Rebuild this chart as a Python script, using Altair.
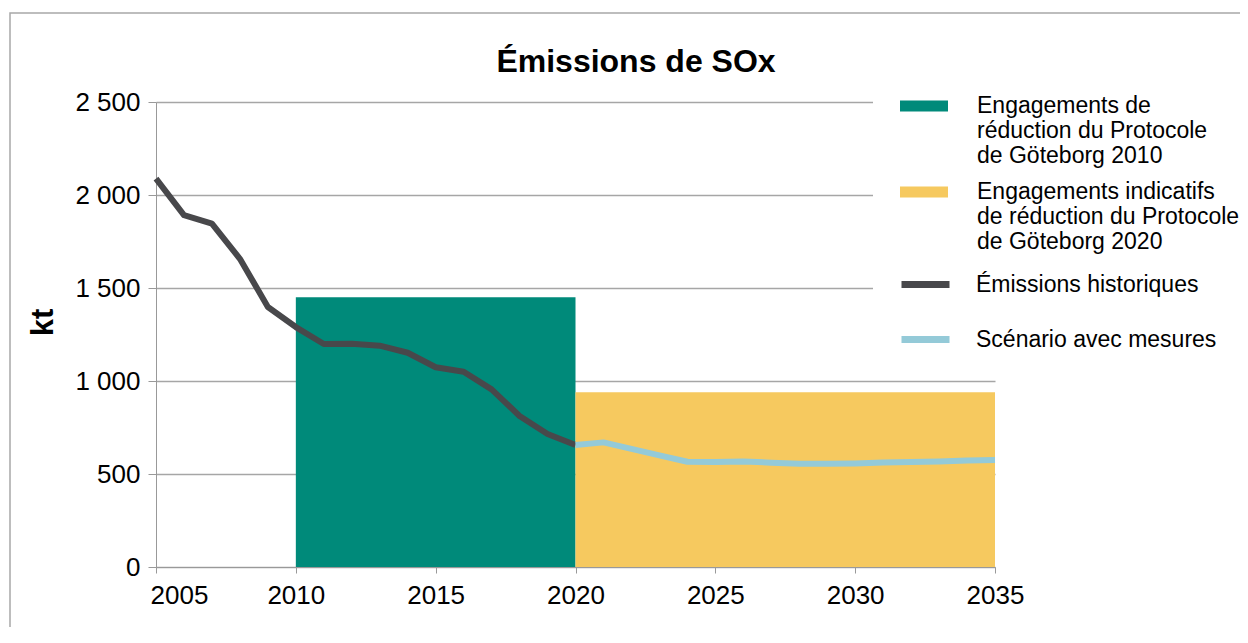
import altair as alt
import pandas as pd

# ---- data ----
title_text = "Émissions de SOx"
hist_years = list(range(2005, 2021))
hist_values = [2088, 1892, 1846, 1657, 1398, 1290, 1199, 1200, 1190, 1152, 1074, 1050, 955, 812, 715, 656]

scen_years = list(range(2020, 2036))
scen_values = [656, 670, 635, 600, 566, 565, 567, 561, 555, 555, 557, 562, 564, 567, 573, 575]

commit_start = [2010, 2020]
commit_end = [2020, 2035]
commit_values = [1450, 940]

commit_labels = [
    "Engagements de\nréduction du Protocole\nde Göteborg 2010",
    "Engagements indicatifs\nde réduction du Protocole\nde Göteborg 2020",
]
commit_colors = ["#008a7a", "#f6c95f"]
line_labels = ["Émissions historiques", "Scénario avec mesures"]
line_colors = ["#48484b", "#94cad8"]

x_ticks = [2005, 2010, 2015, 2020, 2025, 2030, 2035]
y_ticks = [0, 500, 1000, 1500, 2000, 2500]

FONT = "Liberation Sans"

commit_df = pd.DataFrame({
    "start": commit_start,
    "end": commit_end,
    "value": commit_values,
    "series": commit_labels,
})
lines_df = pd.DataFrame({
    "year": hist_years + scen_years,
    "value": hist_values + scen_values,
    "series": [line_labels[0]] * len(hist_years) + [line_labels[1]] * len(scen_years),
})

common_legend = dict(
    title=None,
    orient="none",
    fillColor="white",
    padding=10,
    symbolSize=2304,
    labelFont=FONT,
    labelFontSize=23,
    labelColor="black",
    labelLimit=400,
    labelBaseline="middle",
    labelExpr="split(datum.label, '\\n')",
)

fill_legend = alt.Legend(
    legendX=717, legendY=-30,
    symbolType="M-1,-0.23 L1,-0.23 L1,0.23 L-1,0.23 Z",
    symbolStrokeWidth=0,
    symbolOpacity=1,
    symbolOffset=17,
    labelOffset=29,
    rowPadding=0,
    zindex=3,
    **common_legend,
)
stroke_legend = alt.Legend(
    legendX=717, legendY=145,
    symbolType="stroke",
    symbolStrokeWidth=7,
    symbolOpacity=1,
    symbolOffset=15,
    labelOffset=23,
    rowPadding=13,
    zindex=2,
    **common_legend,
)

x_scale = alt.Scale(domain=[2005, 2035], nice=False, zero=False)
y_scale = alt.Scale(domain=[0, 2500], nice=False)

x_axis = alt.Axis(
    title=None, values=x_ticks, format="d", grid=False,
    labelFont=FONT, labelFontSize=26, labelColor="black", labelPadding=9,
    labelAlign={"condition": {"test": "datum.value == 2005", "value": "left"}, "value": "center"},
    labelOffset={"condition": {"test": "datum.value == 2005", "value": -6}, "value": 0},
    tickSize=6, tickColor="#999999", domainColor="#999999", labelFlush=False,
)
y_axis = alt.Axis(
    title="kt", values=y_ticks,
    labelExpr="replace(format(datum.value, ','), ',', ' ')",
    labelFont=FONT, labelFontSize=26, labelColor="black", labelPadding=8,
    tickSize=8, tickColor="#999999", domainColor="#999999",
    grid=True, gridColor="#a6a6a6", gridWidth=1.3,
    titleFont=FONT, titleFontSize=31, titleFontWeight="bold", titleColor="black",
    titleAngle=-90, titleX=-113, titleY=220, titleAlign="center", titleBaseline="middle",
)

rects = alt.Chart(commit_df).mark_rect(opacity=1).encode(
    x=alt.X("start:Q", scale=x_scale, axis=x_axis),
    x2="end:Q",
    y=alt.Y("value:Q", scale=y_scale, axis=y_axis),
    y2=alt.datum(0),
    fill=alt.Fill("series:N", scale=alt.Scale(domain=commit_labels, range=commit_colors),
                  legend=fill_legend, sort=commit_labels),
)

lines = alt.Chart(lines_df).mark_line(strokeWidth=6, strokeJoin="round").encode(
    x=alt.X("year:Q", scale=x_scale),
    y=alt.Y("value:Q", scale=y_scale),
    stroke=alt.Stroke("series:N", scale=alt.Scale(domain=line_labels, range=line_colors),
                      legend=stroke_legend, sort=line_labels),
)

frame = alt.Chart(pd.DataFrame({"a": [0]})).mark_rect(
    fill="transparent", stroke="#a8a8a8", strokeWidth=1.5
).encode(
    x=alt.value(-146), x2=alt.value(1200), y=alt.value(-89), y2=alt.value(700)
)

title = alt.Chart(pd.DataFrame({"t": [title_text]})).mark_text(
    font=FONT, fontSize=32, fontWeight="bold", color="black",
    align="center", baseline="alphabetic",
).encode(text="t:N", x=alt.value(480), y=alt.value(-30))

chart = alt.layer(frame, rects, lines, title).properties(
    width=839,
    height=465,
    padding={"left": 148, "top": 94, "right": 245, "bottom": 60},
    autosize=alt.AutoSizeParams(type="none"),
).configure_view(stroke=None)

chart.save("out.html", embed_options={"renderer": "svg", "actions": False})
